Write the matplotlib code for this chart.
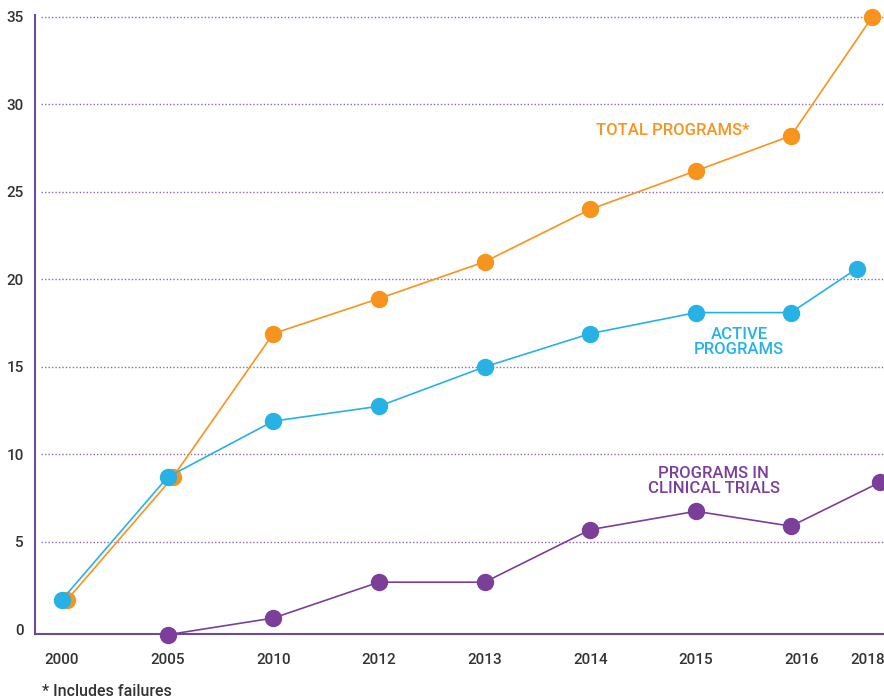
import matplotlib
matplotlib.use('Agg')
import matplotlib.pyplot as plt

years = ['2000', '2005', '2010', '2012', '2013', '2014', '2015', '2016', '2018']
total_programs = [1.7, 8.7, 16.9, 18.9, 21.0, 24.0, 26.2, 28.2, 35.0]
active_programs = [1.7, 8.7, 11.9, 12.75, 15.0, 16.9, 18.1, 18.1, 20.6]
clinical_years = years[1:]
clinical_trials = [-0.3, 0.65, 2.7, 2.7, 5.7, 6.75, 5.9, 8.4]

orange = '#F7941D'
blue = '#27B2E6'
purple = '#7B3F9A'
grid_col = '#8A6BB0'
text_col = '#333333'

plt.rcParams['font.family'] = ['Roboto', 'DejaVu Sans']

# category positions (last category sits a bit closer in the original)
pos = {y: i for i, y in enumerate(years)}
pos['2018'] = 7.63

# small horizontal nudges so markers sit where the original puts them
nudge_total = {'2000': 0.05, '2005': 0.05, '2016': -0.1, '2018': 0.04}
nudge_active = {'2016': -0.1, '2018': -0.11}
nudge_clinical = {'2016': -0.1, '2018': 0.11}

def xs(labels, nudge):
    return [pos[y] + nudge.get(y, 0.0) for y in labels]

fig = plt.figure(figsize=(8.84, 7), dpi=100)
ax = fig.add_axes([35 / 884, 1 - 634 / 700, 849 / 884, 619 / 700])

ax.plot(xs(years, nudge_total), total_programs, color=orange, lw=1.2, marker='o', ms=11.5, zorder=3, clip_on=False)
ax.plot(xs(years, nudge_active), active_programs, color=blue, lw=1.2, marker='o', ms=11.5, zorder=4)
ax.plot(xs(clinical_years, nudge_clinical), clinical_trials, color=purple, lw=1.2, marker='o', ms=11.5, zorder=4, clip_on=False)

ax.set_xlim(-0.255, 7.78)
ax.set_ylim(-0.26, 35.1)
ax.set_yticks(range(0, 36, 5))
ax.set_xticks([pos[y] for y in years])
ax.set_xticklabels(years)

for y in range(5, 36, 5):
    ax.plot([-0.2, 7.78], [y, y], color=grid_col, lw=1, ls=(0, (1, 1.5)), zorder=1)

for s in ['top', 'right']:
    ax.spines[s].set_visible(False)
for s in ['left', 'bottom']:
    ax.spines[s].set_color('#6B4C9A')
    ax.spines[s].set_linewidth(1.5)

ax.tick_params(axis='y', length=0, pad=8, labelsize=11, labelcolor=text_col)
ax.tick_params(axis='x', length=0, pad=14, labelsize=11, labelcolor=text_col)
for lab in ax.get_xticklabels() + ax.get_yticklabels():
    lab.set_fontweight('medium')

ax.text(5.78, 28.5, 'TOTAL PROGRAMS*', color=orange, fontsize=12, fontweight='medium',
        ha='center', va='center')
ax.text(6.41, 16.4, 'ACTIVE\nPROGRAMS', color=blue, fontsize=12, fontweight='medium',
        ha='center', va='center', linespacing=1.0)
ax.text(6.17, 8.5, 'PROGRAMS IN\nCLINICAL TRIALS', color=purple, fontsize=12, fontweight='medium',
        ha='center', va='center', linespacing=1.0)

fig.text(42 / 884, 1 - 691 / 700, '* Includes failures', color=text_col, fontsize=11.5,
         fontweight='medium', va='center')

fig.savefig('out.png', dpi=100)
